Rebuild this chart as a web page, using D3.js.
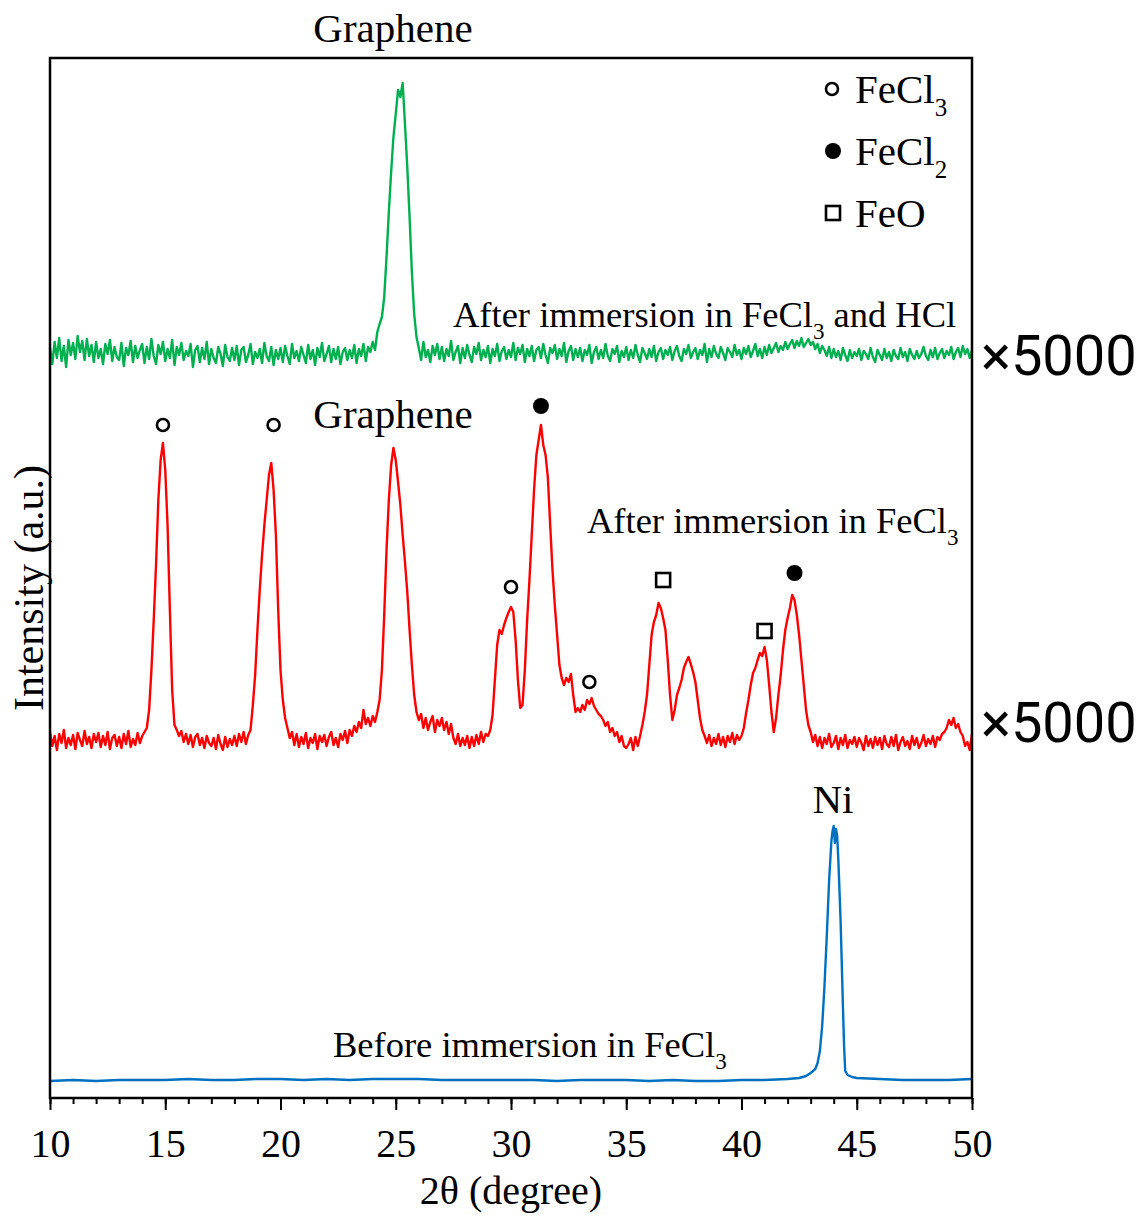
<!DOCTYPE html>
<html>
<head>
<meta charset="utf-8">
<script src="https://cdn.jsdelivr.net/npm/d3@7"></script>
<style>
  body { margin: 0; background: #fff; }
  text { font-family: "Liberation Serif", "Times New Roman", serif; fill: #000; }
</style>
</head>
<body>
<div id="xrdchart"></div>
<script>
// 2theta grid of the scans (0.1 deg step)
const startDeg = 10;
const stepDeg = 0.1;

// after immersion in FeCl3 and HCl (green)
const hclScan = [
  4, -12, 10, -6, 14, -9, 6, -15, 12, -3,
  9, -7, 16, 0, 11, -8, 13, -4, 7, -10,
  10, -6, 3, -12, 8, -2, 12, -9, 5, -5,
  -8, 9, -14, 4, -3, 11, -10, 6, -6, 2,
  8, -11, 5, -7, 13, -4, -12, 7, -2, 10,
  -9, 3, -6, 12, -13, 5, -3, 9, -8, 1,
  -4, 8, -15, 2, 6, -10, 4, -7, 10, -12,
  3, -6, -11, 5, -2, -14, 7, -5, -9, 4,
  -8, 6, -13, 2, 5, -10, -3, 8, -12, 0,
  -6, 3, -11, 9, -4, -9, 5, -13, 2, -7,
  4, -10, 6, -4, -12, 8, -6, 1, -9, 5,
  -3, -11, 7, -7, 2, -13, 4, -5, 9, -9,
  -2, 6, -10, 3, -7, 5, -12, 0, 4, -8,
  2, -6, 7, -11, 3, -4, 8, -9, 5, 0,
  10, 2, 20, 28, 35, 55, 95, 140, 180, 215,
  238, 262, 255, 269, 228, 185, 135, 80, 38, 15,
  4, -8, 10, -5, 2, -10, 6, -3, 8, -7,
  5, -9, 3, -4, 11, -8, 0, 6, -11, 4,
  -6, 7, -3, -10, 5, -2, 9, -8, 2, -5,
  6, -11, 3, -4, 8, -9, 1, 5, -7, 2,
  -5, 9, -8, 4, -2, 7, -10, 3, -4, 6,
  -9, 2, 5, -6, 8, -3, -11, 4, -1, 7,
  -7, 3, -4, 9, -10, 1, 6, -8, 3, -5,
  4, -9, 2, -3, 7, -11, 0, 5, -7, 2,
  -6, 8, -4, -9, 3, -2, 6, -10, 1, -5,
  5, -8, 2, -6, 7, -3, -10, 4, -1, -7,
  3, -5, 6, -9, 0, 4, -7, 2, -3, 5,
  -8, 1, 6, -4, -9, 3, -2, 7, -6, 0,
  4, -7, 2, -3, 8, -10, 3, -5, 6, -2,
  -6, 5, -1, -8, 4, 0, -5, 7, -3, 2,
  -7, 4, -2, 6, -5, 1, 8, -4, 3, -6,
  5, -3, 7, -1, 4, 9, 0, 6, 2, 10,
  3, 8, 12, 4, 11, 6, 14, 5, 9, 13,
  7, 10, 3, 8, -1, 6, 2, -4, 5, -6,
  3, -5, 1, -8, 4, -3, -9, 2, -6, 0,
  -4, 3, -8, 1, -2, -7, 4, -5, -10, 2,
  -3, -8, 3, -6, 0, -9, 2, -4, -7, 4,
  -5, 0, -9, 3, -3, -7, 1, -6, -2, 5,
  -4, -8, 2, -5, 4, -7, -1, 3, -6, 1,
  -3, 5, -7, 0, 4, -5, 6, -2, 3, -6,
  2
];

// after immersion in FeCl3 (red)
const fecl3Scan = [
  8, -6, 4, -10, 6, -3, 10, -8, 2, -5,
  5, -9, 7, 0, -6, 9, -4, 3, -8, 6,
  -2, 7, -7, 4, -5, 8, -9, 2, 5, -6,
  3, -8, 6, -4, 9, -7, 1, -5, 7, -3,
  4, 8, 12, 30, 70, 120, 175, 240, 280, 297,
  270, 215, 130, 50, 15, 10, 4, 9, -2, 6,
  -4, 5, -7, 3, 6, -5, 2, -8, 4, -3,
  -6, 2, -9, 5, -4, -10, 3, -7, 1, -5,
  4, -6, 6, -2, 8, -4, 5, 10, 35, 65,
  110, 150, 185, 215, 240, 265, 277, 250, 205, 130,
  70, 40, 22, 12, 2, 8, -5, 6, -7, 3,
  -4, 7, -8, 2, -3, 6, -9, 4, -2, 5,
  -6, 3, 8, -5, 2, -7, 6, 0, 9, -3,
  10, 4, 14, 8, 18, 12, 30, 16, 22, 14,
  24, 18, 28, 40, 70, 125, 190, 240, 275, 292,
  280, 258, 235, 205, 178, 148, 110, 75, 45, 28,
  20, 26, 12, 22, 10, 18, 24, 8, 20, 14,
  22, 10, 18, 6, 16, 2, -4, 6, -6, 2,
  -5, 4, -8, 3, -6, 5, -4, 8, -2, 6,
  4, 10, 25, 60, 95, 110, 106, 115, 122, 128,
  133, 128, 100, 60, 32, 35, 70, 120, 160, 205,
  250, 285, 300, 315, 295, 285, 262, 215, 170, 135,
  105, 75, 62, 55, 62, 58, 66, 45, 28, 32,
  28, 35, 30, 40, 36, 42, 34, 30, 26, 24,
  20, 14, 18, 8, 12, 4, 8, -2, 4, -6,
  -8, -4, 2, -10, 3, -6, 4, 15, 28, 45,
  75, 105, 118, 125, 137, 132, 122, 110, 80, 45,
  20, 30, 45, 52, 60, 72, 78, 83, 76, 68,
  58, 40, 22, 10, 4, -3, 5, -6, 2, -4,
  6, -5, 3, -7, 4, -2, 7, -4, 5, 0,
  4, 12, 27, 40, 55, 67, 72, 80, 87, 84,
  93, 80, 55, 28, 8, 22, 45, 65, 90, 110,
  122, 132, 145, 140, 125, 105, 80, 55, 30, 15,
  8, -2, 5, -6, 3, -8, 2, -4, 6, -7,
  -3, 4, -9, 2, -5, 5, -8, 0, -4, 3,
  -7, 2, -3, -10, 4, -6, 1, -8, 3, -5,
  2, -9, 4, -4, -7, 3, -6, 5, -10, -2,
  3, -6, -1, -9, 4, -5, 2, -8, -3, 5,
  -6, 1, -4, 4, -7, 3, 0, 6, 8, 12,
  20, 15, 22, 12, 16, 8, 4, -6, -2, -10,
  6
];

// before immersion (blue), read at uneven angles
const niAngle = [10, 11, 12, 13, 14, 15, 16, 17, 18, 19, 20, 21, 22, 23, 24, 25, 26,
  27, 28, 29, 30, 31, 32, 33, 34, 35, 36, 37, 38, 39, 40, 41, 42,
  42.5, 42.8, 43.0, 43.2, 43.3, 43.4, 43.5, 43.6, 43.7, 43.8, 43.9, 43.95, 44.0,
  44.05, 44.1, 44.15, 44.2, 44.3, 44.4, 44.45, 44.5, 44.6, 44.8,
  45, 46, 47, 48, 49, 50];
const niScan = [0, 1, 0, 1, 1, 1, 2, 1, 1, 2, 2, 1, 2, 1, 2, 2, 2,
  1, 1, 1, 1, 1, 0, 1, 1, 1, 0, 1, 0, 0, 1, 1, 2,
  3, 5, 8, 12, 18, 30, 55, 95, 145, 200, 240, 250, 255,
  238, 252, 245, 222, 160, 75, 35, 10, 6, 4,
  3, 2, 1, 1, 1, 2];

// vertical offsets of the stacked scans
const seriesNames = ["before", "fecl3", "hcl"];
const seriesOffsets = [17, 358, 746];
const seriesColors = ["#0070C0", "#FF0000", "#00B050"];

// phase markers on the FeCl3 scan: [2theta, height above its baseline]
const fecl3Marks = [[14.9, 315], [19.7, 315], [30.0, 153], [33.4, 58]];
const fecl2Marks = [[31.3, 334], [42.3, 167]];
const feoMarks = [[36.6, 160], [41.0, 109]];

const xMajorTicks = [10, 15, 20, 25, 30, 35, 40, 45, 50];
const xMinorTicks = d3.range(10, 51, 1);

const margin = { left: 50, top: 58, right: 171, bottom: 119 };
const W = 1143, H = 1217;
const width = W - margin.left - margin.right;
const height = H - margin.top - margin.bottom;

const svg = d3.select("#xrdchart").append("svg")
  .attr("width", W).attr("height", H);
const g = svg.append("g")
  .attr("transform", `translate(${margin.left},${margin.top})`);

const x = d3.scaleLinear().domain([10, 50]).range([0, width]);
const y = d3.scaleLinear().domain([0, 1040]).range([height, 0]);

const line = d3.line().x(d => x(d[0])).y(d => y(d[1]));

const toPoints = (vals, off) => vals.map((v, i) => [startDeg + i * stepDeg, v + off]);
const scans = [
  niAngle.map((a, i) => [a, niScan[i] + seriesOffsets[0]]),
  toPoints(fecl3Scan, seriesOffsets[1]),
  toPoints(hclScan, seriesOffsets[2])
];

scans.forEach((pts, i) => {
  g.append("path")
    .datum(pts)
    .attr("class", "scan " + seriesNames[i])
    .attr("fill", "none")
    .attr("stroke", seriesColors[i])
    .attr("stroke-width", 2.4)
    .attr("stroke-linejoin", "round")
    .attr("d", line);
});

// frame
g.append("rect")
  .attr("width", width).attr("height", height)
  .attr("fill", "none").attr("stroke", "#000").attr("stroke-width", 2.5);

// x axis: minor then major ticks
const minorAxis = g.append("g")
  .attr("transform", `translate(0,${height})`)
  .call(d3.axisBottom(x).tickValues(xMinorTicks).tickSize(6).tickFormat(""));
minorAxis.select(".domain").remove();
minorAxis.selectAll("line").attr("stroke-width", 2);

const majorAxis = g.append("g")
  .attr("transform", `translate(0,${height})`)
  .call(d3.axisBottom(x).tickValues(xMajorTicks).tickSize(12).tickFormat(d3.format("d")));
majorAxis.select(".domain").remove();
majorAxis.selectAll("line").attr("stroke-width", 2);
majorAxis.selectAll("text")
  .attr("y", 59).attr("dy", 0)
  .style("font-family", '"Liberation Serif", "Times New Roman", serif')
  .style("font-size", "40px").attr("fill", "#000");

// axis titles
g.append("text")
  .attr("x", x(30)).attr("y", height + 106)
  .attr("text-anchor", "middle").style("font-size", "40px")
  .text("2θ (degree)");

svg.append("text")
  .attr("transform", "translate(43,588) rotate(-90)")
  .attr("text-anchor", "middle").style("font-size", "42px")
  .text("Intensity (a.u.)");

// phase markers
const mY = (d) => y(d[1] + seriesOffsets[1]);
g.selectAll(".m-fecl3").data(fecl3Marks).join("circle")
  .attr("cx", d => x(d[0])).attr("cy", mY).attr("r", 6)
  .attr("fill", "#fff").attr("stroke", "#000").attr("stroke-width", 2.6);
g.selectAll(".m-fecl2").data(fecl2Marks).join("circle")
  .attr("cx", d => x(d[0])).attr("cy", mY).attr("r", 8)
  .attr("fill", "#000");
g.selectAll(".m-feo").data(feoMarks).join("rect")
  .attr("x", d => x(d[0]) - 7).attr("y", d => mY(d) - 7)
  .attr("width", 14).attr("height", 14)
  .attr("fill", "#fff").attr("stroke", "#000").attr("stroke-width", 2.6);

// legend
const legend = [
  { name: "FeCl", sub: "3", kind: "open" },
  { name: "FeCl", sub: "2", kind: "filled" },
  { name: "FeO", sub: "", kind: "square" }
];
const lg = svg.append("g");
legend.forEach((d, i) => {
  const cy = 89 + i * 62;
  if (d.kind === "open") {
    lg.append("circle").attr("cx", 832).attr("cy", cy).attr("r", 6)
      .attr("fill", "#fff").attr("stroke", "#000").attr("stroke-width", 2.6);
  } else if (d.kind === "filled") {
    lg.append("circle").attr("cx", 833).attr("cy", cy).attr("r", 8).attr("fill", "#000");
  } else {
    lg.append("rect").attr("x", 826).attr("y", cy - 7).attr("width", 14).attr("height", 14)
      .attr("fill", "#fff").attr("stroke", "#000").attr("stroke-width", 2.6);
  }
  const t = lg.append("text").attr("x", 855).attr("y", cy + 14).style("font-size", "41px");
  t.append("tspan").text(d.name);
  if (d.sub) t.append("tspan").attr("dy", 13).style("font-size", "25px").text(d.sub);
});

// curve labels
function label(xp, yp, size, parts) {
  const t = svg.append("text").attr("x", xp).attr("y", yp).style("font-size", size + "px");
  let shift = 0;
  parts.forEach(p => {
    const s = t.append("tspan").text(p[0]);
    if (p[1]) {
      s.attr("dy", 12 - shift).style("font-size", Math.round(size * 0.62) + "px");
      shift = 12;
    } else if (shift) {
      s.attr("dy", -shift);
      shift = 0;
    }
  });
  return t;
}
label(453, 327, 36.5, [["After immersion in FeCl"], ["3", true], [" and HCl"]]);
label(587, 533, 36.5, [["After immersion in FeCl"], ["3", true]]);
label(333, 1057, 36.5, [["Before immersion in FeCl"], ["3", true]]);

svg.append("text").attr("x", 393).attr("y", 42).attr("text-anchor", "middle")
  .style("font-size", "41px").text("Graphene");
svg.append("text").attr("x", 393).attr("y", 428).attr("text-anchor", "middle")
  .style("font-size", "41px").text("Graphene");
svg.append("text").attr("x", 833).attr("y", 813).attr("text-anchor", "middle")
  .style("font-size", "41px").text("Ni");

// scale factor notes
[375, 742].forEach(by => {
  svg.append("text").attr("x", 981).attr("y", by)
    .style("font-family", "Roboto, 'DejaVu Sans', sans-serif")
    .style("font-size", "56px").text("×5000");
});
</script>
</body>
</html>
